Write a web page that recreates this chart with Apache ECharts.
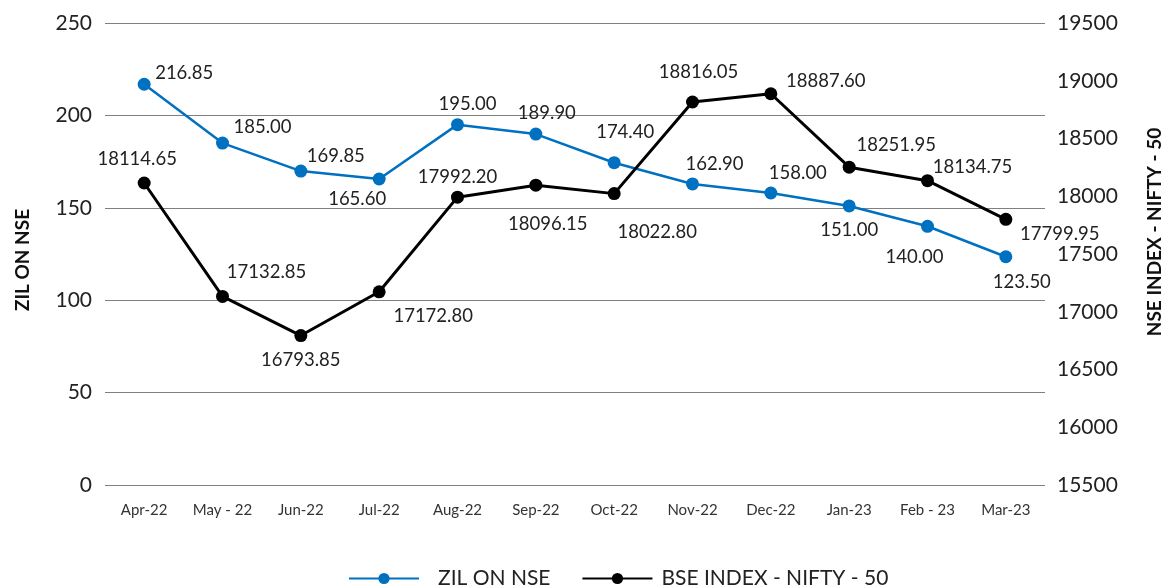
<!DOCTYPE html>
<html>
<head>
<meta charset="utf-8">
<script src="https://cdn.jsdelivr.net/npm/echarts@6/dist/echarts.min.js"></script>
<style>
  html, body { margin: 0; padding: 0; background: #fff; }
  #pic1 { width: 1163px; height: 587px; }
</style>
</head>
<body>
<div id="pic1"></div>
<script>
// categories and the two series
var months = ['Apr-22', 'May - 22', 'Jun-22', 'Jul-22', 'Aug-22', 'Sep-22',
              'Oct-22', 'Nov-22', 'Dec-22', 'Jan-23', 'Feb - 23', 'Mar-23'];
var zilPrice = [216.85, 185.00, 169.85, 165.60, 195.00, 189.90,
                174.40, 162.90, 158.00, 151.00, 140.00, 123.50];
var nifty = [18114.65, 17132.85, 16793.85, 17172.80, 17992.20, 18096.15,
             18022.80, 18816.05, 18887.60, 18251.95, 18134.75, 17799.95];
var leftTicks = [0, 250, 50];
var rightTicks = [15500, 19500, 500];

// where each value label sits relative to its point
var zilLabelShift = [[40, -11], [40, -16], [35, -15], [-22, 20], [10, -21], [11, -21],
                     [11, -31], [22, -20], [27, -20], [0, 24], [-13, 31], [16, 25]];
var niftyLabelShift = [[-7, -24], [44, -24], [0, 24], [54, 24], [0, -20], [12, 39],
                       [43, 38], [6, -30], [55, -13], [47, -22], [45, -14], [54, 15]];

function withLabels(vals, shifts) {
  return vals.map(function (v, i) {
    return { value: v, label: { offset: shifts[i] } };
  });
}

var myChart = echarts.init(document.getElementById('pic1'));
var font = 'Lato, "Open Sans", sans-serif';

option = {
  textStyle: { fontFamily: font },
  animation: false,
  grid: { left: 105, right: 118, top: 23, bottom: 102, outerBoundsMode: 'none' },
  legend: {
    top: 563,
    left: 343,
    itemWidth: 70,
    itemHeight: 14,
    itemGap: 31,
    textStyle: { fontSize: 21, color: '#222', fontFamily: font },
    data: [
      { name: 'ZIL ON NSE', textStyle: { padding: [0, 0, 0, 14] } },
      { name: 'BSE INDEX - NIFTY - 50', textStyle: { padding: [0, 0, 0, 4] } }
    ]
  },
  xAxis: {
    type: 'category',
    data: months,
    axisTick: { show: false },
    axisLine: { show: false },
    axisLabel: { fontSize: 15, color: '#333', margin: 18, interval: 0 }
  },
  yAxis: [
    {
      type: 'value',
      min: leftTicks[0], max: leftTicks[1], interval: leftTicks[2],
      name: 'ZIL ON NSE',
      nameLocation: 'middle',
      nameRotate: 90,
      nameGap: 73,
      nameTextStyle: { fontSize: 19, fontWeight: 'bold', color: '#111', padding: [0, 12, 0, 0] },
      axisLabel: { fontSize: 21, color: '#222', margin: 13 },
      splitLine: { lineStyle: { color: '#808080', width: 1 } }
    },
    {
      type: 'value',
      position: 'right',
      min: rightTicks[0], max: rightTicks[1], interval: rightTicks[2],
      name: 'NSE INDEX - NIFTY - 50',
      nameLocation: 'middle',
      nameRotate: 90,
      nameGap: 100,
      nameTextStyle: { fontSize: 19, fontWeight: 'bold', color: '#111', padding: [0, 0, 0, 44] },
      axisLabel: { fontSize: 21, color: '#222', margin: 12, formatter: function (v) { return String(v); } },
      splitLine: { show: false }
    }
  ],
  series: [
    {
      name: 'ZIL ON NSE',
      type: 'line',
      yAxisIndex: 0,
      data: withLabels(zilPrice, zilLabelShift),
      symbol: 'circle',
      symbolSize: 13,
      color: '#0070C0',
      lineStyle: { width: 2.5, color: '#0070C0' },
      label: {
        show: true,
        position: 'inside',
        fontSize: 18.5,
        color: '#222',
        formatter: function (p) { return p.value.toFixed(2); }
      }
    },
    {
      name: 'BSE INDEX - NIFTY - 50',
      type: 'line',
      yAxisIndex: 1,
      data: withLabels(nifty, niftyLabelShift),
      symbol: 'circle',
      symbolSize: 13,
      color: '#000',
      lineStyle: { width: 3, color: '#000' },
      label: {
        show: true,
        position: 'inside',
        fontSize: 18.5,
        color: '#222',
        formatter: function (p) { return p.value.toFixed(2); }
      }
    }
  ]
};

myChart.setOption(option);
</script>
</body>
</html>
